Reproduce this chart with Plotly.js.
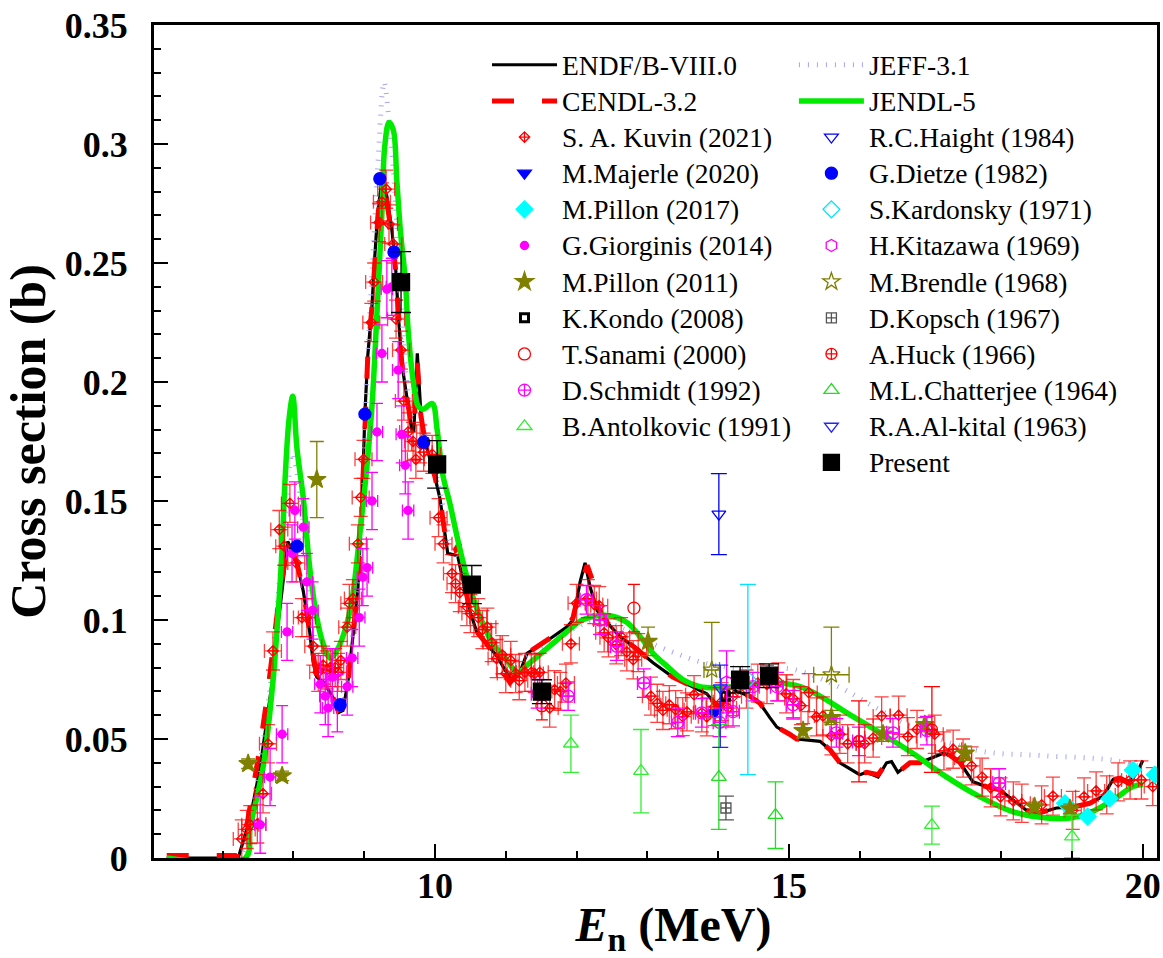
<!DOCTYPE html>
<html>
<head>
<meta charset="utf-8">
<script src="https://cdn.plot.ly/plotly-3.0.1.min.js"></script>
<style>html,body{margin:0;padding:0;background:#fff;}#chart{width:1163px;height:958px;}</style>
</head>
<body>
<div id="chart"></div>
<script>
// ---------- Evaluated data ----------
const endfE = [6.21,7.22,7.39,7.53,7.63,7.70,7.77,7.84,7.92,8.05,8.14,8.23,8.28,8.33,8.42,8.55,8.63,8.70,8.77,8.84,8.91,8.97,9.01,9.05,9.11,9.15,9.19,9.25,9.32,9.39,9.44,9.48,9.53,9.60,9.67,9.70,9.75,9.80,9.86,10.0,10.07,10.18,10.32,10.40,10.49,10.59,10.73,10.87,11.01,11.08,11.20,11.30,11.38,11.62,11.86,11.95,12.05,12.12,12.19,12.29,12.43,12.61,12.80,13.08,13.36,13.64,13.84,13.95,14.02,14.17,14.26,14.45,14.59,14.73,14.83,15.01,15.11,15.44,15.58,15.72,16.0,16.10,16.26,16.38,16.45,16.54,16.71,16.85,17.03,17.18,17.27,17.42,17.60,17.79,17.98,18.17,18.36,18.54,18.78,19.01,19.25,19.44,19.58,19.68,19.82,19.92,20.0];
const endfS = [0,0,0.017,0.038,0.059,0.074,0.095,0.113,0.133,0.124,0.112,0.095,0.082,0.076,0.074,0.068,0.061,0.062,0.074,0.093,0.113,0.150,0.187,0.211,0.232,0.253,0.271,0.285,0.278,0.264,0.250,0.229,0.208,0.194,0.180,0.179,0.212,0.187,0.175,0.160,0.151,0.128,0.127,0.116,0.104,0.095,0.090,0.085,0.078,0.075,0.078,0.086,0.0875,0.092,0.097,0.100,0.116,0.124,0.114,0.104,0.099,0.093,0.089,0.082,0.076,0.072,0.069,0.065,0.062,0.072,0.070,0.068,0.065,0.059,0.055,0.052,0.050,0.049,0.0455,0.040,0.035,0.036,0.034,0.040,0.0405,0.036,0.040,0.040,0.042,0.044,0.0433,0.040,0.032,0.030,0.0286,0.0244,0.020,0.019,0.021,0.0214,0.023,0.026,0.033,0.0336,0.032,0.036,0.041];

const cendlE = [6.21,7.20,7.35,7.53,7.63,7.70,7.80,7.92,8.05,8.14,8.23,8.28,8.33,8.42,8.55,8.63,8.70,8.77,8.84,8.91,8.97,9.01,9.05,9.11,9.15,9.20,9.29,9.34,9.39,9.44,9.48,9.53,9.60,9.67,9.70,9.75,9.80,9.86,10.0,10.07,10.18,10.28,10.34,10.40,10.49,10.59,10.73,10.87,11.01,11.06,11.12,11.20,11.30,11.38,11.62,11.86,11.95,12.05,12.15,12.22,12.29,12.43,12.61,12.80,13.08,13.36,13.64,13.84,13.95,14.02,14.17,14.26,14.45,14.59,14.73,14.83,15.01,15.11,15.44,15.58,15.72,16.0,16.10,16.26,16.38,16.45,16.54,16.71,16.85,17.03,17.18,17.27,17.42,17.60,17.79,17.98,18.17,18.36,18.54,18.78,19.01,19.25,19.44,19.58,19.68,19.82,19.92,20.0];
const cendlS = [0.001,0.001,0.015,0.047,0.068,0.087,0.110,0.132,0.124,0.112,0.095,0.083,0.076,0.074,0.068,0.062,0.063,0.074,0.093,0.113,0.150,0.187,0.211,0.232,0.253,0.272,0.281,0.272,0.262,0.248,0.229,0.208,0.194,0.181,0.180,0.208,0.186,0.175,0.160,0.151,0.128,0.129,0.132,0.118,0.104,0.095,0.090,0.084,0.076,0.0737,0.076,0.079,0.086,0.0875,0.092,0.097,0.101,0.114,0.123,0.117,0.106,0.099,0.093,0.089,0.082,0.076,0.072,0.069,0.065,0.063,0.071,0.070,0.068,0.065,0.059,0.055,0.052,0.050,0.049,0.0455,0.040,0.035,0.036,0.035,0.040,0.040,0.036,0.040,0.040,0.042,0.044,0.0433,0.040,0.032,0.030,0.0286,0.0244,0.020,0.019,0.021,0.0214,0.023,0.026,0.033,0.0336,0.031,0.029,0.0286];

const jeffE = [6.21,7.22,7.39,7.53,7.63,7.70,7.77,7.84,7.92,7.98,8.05,8.14,8.23,8.33,8.42,8.55,8.63,8.70,8.77,8.84,8.91,8.97,9.05,9.11,9.19,9.28,9.35,9.41,9.48,9.55,9.62,9.69,9.76,9.86,10.0,10.1,10.2,10.35,10.5,10.7,10.9,11.1,11.3,11.6,12.0,12.3,12.6,13.0,13.4,13.8,14.2,14.6,15.1,15.7,16.2,16.9,17.7,18.6,19.6,20.0];
const jeffS = [0,0,0.017,0.040,0.062,0.080,0.105,0.130,0.155,0.170,0.162,0.140,0.112,0.088,0.076,0.068,0.063,0.064,0.076,0.095,0.118,0.150,0.210,0.245,0.290,0.326,0.310,0.290,0.255,0.220,0.195,0.185,0.188,0.178,0.163,0.150,0.135,0.125,0.112,0.098,0.088,0.083,0.085,0.090,0.097,0.100,0.097,0.091,0.086,0.082,0.080,0.080,0.079,0.072,0.0636,0.0526,0.045,0.043,0.041,0.038];

const jendlE = [6.21,7.32,7.39,7.57,7.71,7.78,7.84,7.88,7.94,7.99,8.05,8.14,8.23,8.33,8.42,8.52,8.62,8.76,8.84,8.94,9.03,9.11,9.18,9.25,9.29,9.35,9.41,9.46,9.51,9.58,9.62,9.69,9.76,9.83,9.96,10.03,10.11,10.21,10.35,10.49,10.64,10.82,11.02,11.16,11.34,11.62,11.86,12.05,12.24,12.38,12.52,12.71,12.90,13.08,13.28,13.50,13.74,13.98,14.21,14.69,14.87,15.16,15.44,15.82,16.29,16.75,17.23,17.70,18.16,18.64,18.97,19.25,19.58,19.86,20.0];
const jendlS = [0,0,0.013,0.038,0.074,0.101,0.130,0.158,0.185,0.194,0.172,0.151,0.122,0.101,0.090,0.084,0.0875,0.099,0.111,0.137,0.162,0.190,0.229,0.271,0.299,0.309,0.306,0.285,0.264,0.243,0.222,0.201,0.190,0.1885,0.191,0.180,0.161,0.149,0.130,0.114,0.101,0.090,0.083,0.078,0.082,0.089,0.095,0.0995,0.1015,0.102,0.1015,0.099,0.093,0.086,0.0805,0.075,0.072,0.0715,0.072,0.0735,0.0735,0.072,0.068,0.061,0.0526,0.044,0.034,0.0257,0.0195,0.0168,0.0168,0.019,0.0244,0.030,0.031];

// ---------- Experimental data ----------
const kuvinE = [7.27,7.34,7.39,7.49,7.57,7.64,7.71,7.80,7.87,7.95,8.04,8.12,8.19,8.28,8.35,8.42,8.47,8.52,8.59,8.63,8.67,8.76,8.79,8.84,8.91,8.95,8.99,9.10,9.14,9.21,9.25,9.31,9.35,9.41,9.45,9.52,9.56,9.62,9.69,9.73,9.79,9.84,9.96,10.05,10.12,10.24,10.29,10.35,10.45,10.50,10.61,10.67,10.74,10.80,10.87,10.95,11.00,11.07,11.14,11.19,11.27,11.36,11.41,11.48,11.62,11.69,11.77,11.85,11.92,12.00,12.16,12.25,12.32,12.39,12.45,12.56,12.63,12.71,12.80,12.87,13.05,13.14,13.22,13.31,13.40,13.50,13.56,13.66,13.77,13.84,13.95,14.05,14.14,14.21,14.40,14.56,14.69,14.85,14.96,15.06,15.17,15.28,15.39,15.48,15.60,15.72,15.83,16.07,16.19,16.31,16.55,16.68,16.81,17.06,17.19,17.32,17.46,17.58,17.73,17.85,17.99,18.17,18.29,18.57,18.73,19.01,19.17,19.34,19.49,19.65,19.82,19.98,20.14];
const kuvinS = [0.008,0.012,0.014,0.0143,0.027,0.048,0.087,0.138,0.131,0.149,0.124,0.101,0.101,0.089,0.078,0.081,0.079,0.080,0.080,0.078,0.083,0.097,0.107,0.109,0.132,0.1515,0.1675,0.225,0.242,0.267,0.2757,0.281,0.2664,0.258,0.2264,0.2134,0.192,0.179,0.175,0.1675,0.174,0.1705,0.1696,0.143,0.132,0.1195,0.1153,0.1115,0.1056,0.1027,0.101,0.096,0.097,0.0905,0.0838,0.0854,0.0775,0.083,0.0775,0.0745,0.078,0.078,0.0775,0.078,0.063,0.0707,0.070,0.0735,0.090,0.107,0.109,0.1065,0.106,0.0946,0.0925,0.0896,0.093,0.0866,0.0833,0.0863,0.068,0.065,0.062,0.0644,0.0623,0.0594,0.0614,0.0686,0.061,0.0593,0.0636,0.0657,0.063,0.0678,0.071,0.0735,0.0729,0.074,0.069,0.067,0.064,0.0695,0.0593,0.0597,0.0513,0.052,0.048,0.048,0.0504,0.0597,0.060,0.051,0.054,0.052,0.045,0.0457,0.042,0.0387,0.034,0.0295,0.0257,0.024,0.023,0.0223,0.026,0.020,0.0257,0.0282,0.0265,0.032,0.0328,0.0328,0.030];

const majerleE = [13.95];
const majerleS = [0.061];

const pillon17E = [18.90,19.22,19.53,19.86,20.17];
const pillon17S = [0.023,0.0174,0.025,0.037,0.035];

const giorgE = [7.53,7.67,7.84,7.91,7.98,8.02,8.14,8.19,8.27,8.38,8.45,8.49,8.55,8.62,8.76,8.83,8.93,8.98,9.04,9.11,9.18,9.25,9.32,9.39,9.48,9.53,9.58,9.62];
const giorgS = [0.014,0.034,0.052,0.095,0.128,0.146,0.139,0.116,0.104,0.073,0.068,0.063,0.076,0.065,0.072,0.084,0.101,0.118,0.122,0.150,0.179,0.212,0.239,0.240,0.205,0.178,0.165,0.146];

const pillon11E = [7.36,7.84,8.33,13.01,15.20,15.60,16.33,16.92,17.49,18.47,18.97];
const pillon11S = [0.0396,0.0345,0.159,0.091,0.0535,0.059,0.052,0.056,0.044,0.0215,0.0206];
const pillon11Err = [0.002,0.002,0.016,0.006,0.003,0.003,0.003,0.003,0.003,0.002,0.002];

const kondoE = [14.10];
const kondoS = [0.068];

const sanamiE = [11.51,12.81];
const sanamiS = [0.064,0.105];
const sanamiErr = [0.006,0.010];

const schmidtE = [11.45,11.88,12.14,12.33,12.57,12.95,13.43,13.77,14.02,14.21,14.49,14.83,15.06,15.67,15.99,16.47,16.95,17.97];
const schmidtS = [0.069,0.068,0.1085,0.100,0.089,0.0735,0.057,0.061,0.057,0.0615,0.072,0.072,0.0644,0.0526,0.049,0.0526,0.0535,0.0315];

const antolE = [11.92,12.91,17.02,19.00];
const antolS = [0.048,0.0365,0.0138,0.009];
const antolErr = [0.012,0.0175,0.008,0.009];

const haightE = [14.01];
const haightS = [0.1445];
const haightErr = [0.017];

const dietzeE = [8.05,8.66,9.01,9.22,9.42,9.84];
const dietzeS = [0.131,0.0644,0.1865,0.2854,0.2546,0.1747];

const kardE = [14.42];
const kardS = [0.075];
const kardErr = [0.040];

const kitaE = [14.12];
const kitaS = [0.074];
const kitaErr = [0.013];

const brendleE = [13.91,15.60];
const brendleS = [0.079,0.077];
const brendleErr = [0.020,0.020];
const brendleErrE = [0.11,0.25];

const kopschE = [14.11];
const kopschS = [0.021];
const kopschErr = [0.005];

const huckE = [15.99,17.02];
const huckS = [0.049,0.054];
const huckErr = [0.017,0.018];

const chattE = [14.01,14.81];
const chattS = [0.034,0.018];
const chattErr = [0.022,0.014];

const alkitalE = [14.03];
const alkitalS = [0.0715];
const alkitalErrUp = [0.0095];
const alkitalErrDn = [0.025];

const presentE = [9.52,10.03,10.52,11.51,14.31,14.72];
const presentS = [0.242,0.1654,0.1149,0.0699,0.0749,0.0766];
const presentErr = [0.0128,0.010,0.008,0.005,0.0055,0.005];

// ---------- traces ----------
// legend labels are drawn slightly larger than the legend's row pitch font
function lbl(name) { return '<span style="font-size:27.5px">' + name + '</span>'; }
function line(name, x, y, color, width, dash, legend, shape) {
  return {type:'scatter', mode:'lines', name: lbl(name), x, y, legend,
    line:{color, width, dash: dash || 'solid', shape: shape || 'linear'}};
}
function pts(name, x, y, symbol, color, size, legend, opts) {
  opts = opts || {};
  const t = {type:'scatter', mode:'markers', name: lbl(name), x, y, legend,
    marker:{symbol, color, size, line:{color, width: opts.lw || 1.3}}};
  if (opts.ey) t.error_y = Object.assign({visible:true, color: opts.ec || color, thickness: 1.3, width: opts.cw || 6}, opts.ey);
  if (opts.ex) t.error_x = Object.assign({visible:true, color: opts.ec || color, thickness: 1.3, width: opts.cw || 6}, opts.ex);
  return t;
}

const traces = [
  line('ENDF/B-VIII.0', endfE, endfS, '#000000', 3.2, null, 'legend'),
  line('JEFF-3.1', jeffE, jeffS, 'rgb(165,165,240)', 5, '1px,8px', 'legend2', 'spline'),
  line('CENDL-3.2', cendlE, cendlS, '#ff0000', 5, '22px,28px', 'legend'),
  line('JENDL-5', jendlE, jendlS, 'rgb(0,235,0)', 5.5, null, 'legend2', 'spline'),

  pts('S. A. Kuvin (2021)', kuvinE, kuvinS, 'diamond-cross-open', '#ff0000', 8, 'legend',
      {ec:'rgba(255,0,0,0.75)', ey:{type:'constant', value:0.008}, ex:{type:'constant', value:0.12}, cw:7}),
  pts('M.Majerle (2020)', majerleE, majerleS, 'triangle-down', '#0000ff', 12, 'legend'),
  pts('M.Pillon (2017)', pillon17E, pillon17S, 'diamond', '#00ffff', 13, 'legend'),
  pts('G.Giorginis (2014)', giorgE, giorgS, 'circle', '#ff00ff', 8, 'legend',
      {ey:{type:'constant', value:0.012}, ex:{type:'constant', value:0.08}, cw:6}),
  pts('M.Pillon (2011)', pillon11E, pillon11S, 'star', '#808000', 14, 'legend',
      {ey:{type:'data', array:pillon11Err}, cw:7}),
  pts('K.Kondo (2008)', kondoE, kondoS, 'square-open', '#000000', 8, 'legend', {lw:3}),
  pts('T.Sanami (2000)', sanamiE, sanamiS, 'circle-open', '#ff0000', 12, 'legend',
      {ey:{type:'data', array:sanamiErr}, cw:6}),
  pts('D.Schmidt (1992)', schmidtE, schmidtS, 'circle-cross-open', '#ff00ff', 12, 'legend',
      {ey:{type:'constant', value:0.006}, ex:{type:'constant', value:0.09}, cw:7}),
  pts('B.Antolkovic (1991)', antolE, antolS, 'triangle-up-open', '#33ee33', 13, 'legend',
      {ey:{type:'data', array:antolErr}, cw:8}),

  pts('R.C.Haight (1984)', haightE, haightS, 'triangle-down-open', '#0000ff', 12, 'legend2',
      {ey:{type:'data', array:haightErr}, cw:8}),
  pts('G.Dietze (1982)', dietzeE, dietzeS, 'circle', '#0000ff', 12, 'legend2'),
  pts('S.Kardonsky (1971)', kardE, kardS, 'diamond-open', '#00e5ff', 13, 'legend2',
      {ey:{type:'data', array:kardErr}, cw:8}),
  pts('H.Kitazawa (1969)', kitaE, kitaS, 'hexagon-open', '#ff00ff', 12, 'legend2',
      {ey:{type:'data', array:kitaErr}, cw:8}),
  pts('M.Brendle (1968)', brendleE, brendleS, 'star-open', '#808000', 13, 'legend2',
      {ey:{type:'data', array:brendleErr}, ex:{type:'data', array:brendleErrE}, cw:8}),
  pts('D.Kopsch (1967)', kopschE, kopschS, 'square-cross-open', '#555555', 10, 'legend2',
      {ey:{type:'data', array:kopschErr}, cw:8}),
  pts('A.Huck (1966)', huckE, huckS, 'circle-cross-open', '#ff0000', 11, 'legend2',
      {ey:{type:'data', array:huckErr}, cw:8}),
  pts('M.L.Chatterjee (1964)', chattE, chattS, 'triangle-up-open', '#22dd22', 13, 'legend2',
      {ey:{type:'data', array:chattErr}, cw:8}),
  pts('R.A.Al-kital (1963)', alkitalE, alkitalS, 'triangle-down-open', '#2222ff', 12, 'legend2',
      {ey:{type:'data', array:alkitalErrUp, arrayminus:alkitalErrDn}, cw:8}),
  pts('Present', presentE, presentS, 'square', '#000000', 17, 'legend2',
      {ey:{type:'data', array:presentErr}, cw:10}),
];

const serif = 'Liberation Serif';
const legendSerif = 'Times New Roman';

const layout = {
  width: 1163, height: 958,
  margin: {l:154, r:6, t:25, b:100},
  paper_bgcolor:'#fff', plot_bgcolor:'#fff',
  showlegend: true,
  font: {family: serif, color:'#000'},
  xaxis: {
    range:[6.03, 20.2], tickvals:[10,15,20], ticks:'inside', ticklen:14, tickwidth:2.5, tickcolor:'#000',
    minor:{dtick:1, tick0:0, ticks:'inside', ticklen:7, tickwidth:2, tickcolor:'#000'},
    showline:true, linewidth:3, linecolor:'#000', mirror:true, showgrid:false, zeroline:false,
    tickfont:{family:serif, size:36, weight:'bold', color:'#000'}, ticklabelstandoff:-6,
    title:{text:'<b>&nbsp;&nbsp;&nbsp;<i>E</i><sub>n</sub> (MeV)</b>', font:{family:serif, size:48, color:'#000'}, standoff:12}
  },
  yaxis: {
    range:[0, 0.35], tickvals:[0,0.05,0.1,0.15,0.2,0.25,0.3,0.35], ticktext:['0','0.05','0.1','0.15','0.2','0.25','0.3','0.35'],
    ticks:'inside', ticklen:14, tickwidth:2.5, tickcolor:'#000',
    minor:{dtick:0.01, tick0:0, ticks:'inside', ticklen:7, tickwidth:2, tickcolor:'#000'},
    showline:true, linewidth:3, linecolor:'#000', mirror:true, showgrid:false, zeroline:false,
    tickfont:{family:serif, size:36, weight:'bold', color:'#000'}, ticklabelstandoff:16,
    title:{text:'<b>Cross section (b)</b>', font:{family:serif, size:50, color:'#000'}, standoff:12}
  },
  legend: {x:0.332, y:0.980, xanchor:'left', yanchor:'top', bgcolor:'rgba(0,0,0,0)', borderwidth:0,
           font:{family:legendSerif, size:25.5, color:'#000', weight:'normal'}, tracegroupgap:0, itemwidth:65},
  legend2: {x:0.638, y:0.980, xanchor:'left', yanchor:'top', bgcolor:'rgba(0,0,0,0)', borderwidth:0,
           font:{family:legendSerif, size:25.5, color:'#000', weight:'normal'}, tracegroupgap:0, itemwidth:65}
};

Plotly.newPlot('chart', traces, layout, {displayModeBar:false, staticPlot:true});
</script>
</body>
</html>
